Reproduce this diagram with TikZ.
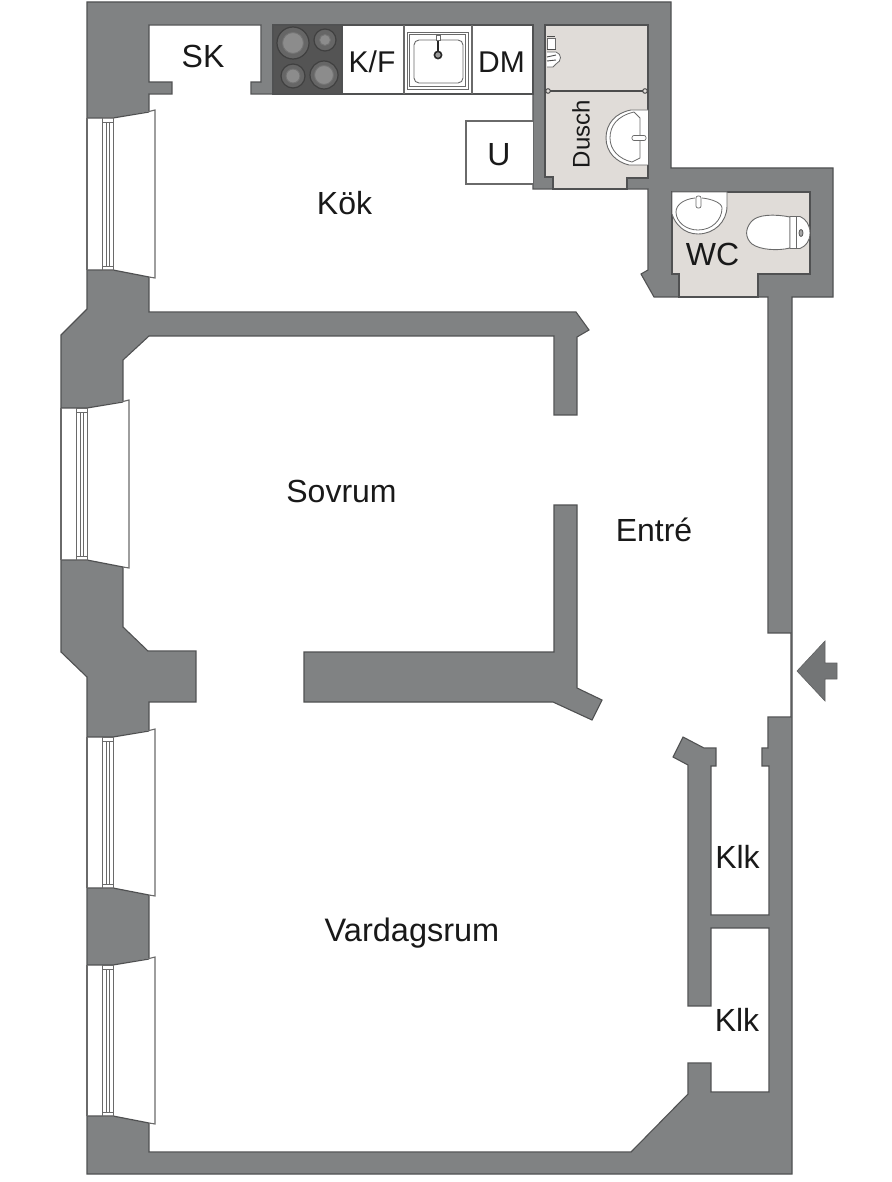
\documentclass[tikz,border=0pt]{standalone}
\usepackage{fontspec}
\setmainfont{Liberation Sans}
\definecolor{wallc}{HTML}{808283}
\definecolor{edgec}{HTML}{505152}
\definecolor{wetc}{HTML}{E0DCD8}
\definecolor{framec}{HTML}{6A6A6A}
\tikzset{
  x=1pt,y=-1pt,
  wall/.style={fill=wallc,draw=edgec,line width=1.1pt,line join=miter},
  room/.style={fill=white,draw=edgec,line width=1.1pt,line join=miter},
  wet/.style={fill=wetc,draw=edgec,line width=1.1pt},
  thin line/.style={draw=framec,line width=1.1pt},
  label/.style={font=\fontsize{32}{34}\selectfont,text=black!90,inner sep=0pt},
  small label/.style={font=\fontsize{30}{32}\selectfont,text=black!90,inner sep=0pt},
  ring/.style={draw=black!75,line width=1.2pt,fill=black!60}
}
\newcommand{\windowat}[7]{%
  \fill[white] (#1,#6) -- (#3,#6) -- (#4,#6-6.5) -- (#5,#6-8) -- (#5,#7+8) -- (#4,#7+7) -- (#3,#7) -- (#1,#7) -- cycle;
  \draw[edgec,line width=1.2pt] (#1,#6) -- (#3,#6) -- (#4,#6-6);
  \draw[edgec,line width=1.2pt] (#1,#7) -- (#3,#7) -- (#4,#7+7);
  \draw[thin line] (#4,#6-6.5) -- (#5,#6-8) -- (#5,#7+8) -- (#4,#7+7);
  \draw[thin line] (#1,#6) -- (#1,#7);
  \draw[thin line,line width=1pt] (#2,#6) rectangle (#3,#7);
  \draw[thin line,line width=0.9pt] (#2+4,#6+4) -- (#2+4,#7-4);
  \draw[thin line,line width=0.9pt] (#2+7.5,#6+4) -- (#2+7.5,#7-4);
  \draw[thin line,line width=0.7pt] (#2,#6+4) -- (#3,#6+4) (#2,#7-4) -- (#3,#7-4);
}
\begin{document}
\begin{tikzpicture}
\useasboundingbox (0,0) rectangle (891,1182);
% outer mass
\path[wall] (87,2) -- (671,2) -- (671,168) -- (833,168) -- (833,297) -- (792,297) -- (792,1174) -- (87,1174) -- (87,677) -- (61,652) -- (61,335) -- (87,309) -- cycle;
% main interior
\path[room] (149,25) -- (261,25) -- (261,82) -- (251,82) -- (251,94) -- (533,94) -- (533,189) -- (648,189) -- (648,270) -- (641,274) -- (654,297) -- (758,297) -- (768,297) -- (768,633) -- (791,633) -- (791,717) -- (768,717) -- (768,748) -- (762,748) -- (762,766) -- (769,766) -- (769,915) -- (711,915) -- (711,766) -- (716,766) -- (716,748) -- (704,748) -- (683,737) -- (673,757) -- (688,765) -- (688,1006) -- (711,1006) -- (711,928) -- (769,928) -- (769,1092) -- (711,1092) -- (711,1063) -- (688,1063) -- (688,1094) -- (631,1152) -- (149,1152) -- (149,702) -- (196,702) -- (196,651) -- (148,651) -- (123,627) -- (123,360) -- (149,336) -- (554,336) -- (554,415) -- (577,415) -- (577,337) -- (589,330) -- (576,312) -- (149,312) -- (149,94) -- (172,94) -- (172,82) -- (149,82) -- cycle;
% central T wall
\path[wall] (304,652) -- (554,652) -- (554,505) -- (577,505) -- (577,688) -- (602,700) -- (592,720) -- (553,702) -- (304,702) -- cycle;
% kitchen row
\path[fill=white,draw=edgec,line width=1.1pt] (342,25) rectangle (533,94);
\path[fill=black!67,draw=edgec,line width=1.1pt] (273,25) rectangle (342,94);
\draw[ring] (293,43) circle (16); \draw[draw=black!55,line width=0.9pt,fill=black!45] (293,43) circle (10.5);
\draw[ring] (325,40) circle (11); \draw[draw=black!55,line width=0.9pt,fill=black!45] (325,40) circle (5.5);
\draw[ring] (293,76) circle (12); \draw[draw=black!55,line width=0.9pt,fill=black!45] (293,76) circle (7);
\draw[ring] (324,75) circle (14); \draw[draw=black!55,line width=0.9pt,fill=black!45] (324,75) circle (9.5);
\draw[thin line] (404,25) -- (404,94) (472,25) -- (472,94);
\draw[thin line,line width=0.9pt] (407,32) rectangle (468,89);
\draw[thin line,line width=0.9pt] (409.5,34.5) rectangle (465.5,86.5);
\draw[thin line,line width=0.9pt,rounded corners=5pt] (414,40) rectangle (463,83);
\draw[draw=black!85,line width=1.6pt] (438,40) -- (438,51);
\draw[thin line,line width=0.7pt,fill=white] (436,35) rectangle (440,40);
\draw[draw=black!85,line width=1.6pt,fill=black!40] (438,55) circle (3.6);
% U unit
\draw[thin line,fill=white] (533,121) -- (466,121) -- (466,184) -- (533,184);
% bathroom
\path[wet] (545,25) -- (648,25) -- (648,178) -- (627,178) -- (627,189) -- (553,189) -- (553,177) -- (545,177) -- cycle;
\draw[fill=white,draw=framec,line width=0.9pt] (648,110) -- (631,110) .. controls (615,113) and (606,124) .. (606,138) .. controls (606,152) and (616,162) .. (629,165) -- (648,165);
\draw[draw=framec,line width=0.8pt] (634,112) .. controls (617,116) and (610,126) .. (610,138) .. controls (610,150) and (619,159) .. (632,162) -- (640,158) -- (640,141) (640,135) -- (640,118) -- (634,112);
\draw[draw=framec,line width=0.7pt,fill=white,rounded corners=2pt] (632,135.5) rectangle (646,140.5);
\draw[draw=black!70,line width=1.2pt] (548,91) -- (645,91);
\draw[draw=black!75,line width=0.9pt,fill=wetc] (548,91) circle (2.3) (645,91) circle (2.3);
% shower head
\draw[draw=framec,line width=0.8pt,fill=white] (547,38) rectangle (555,49);
\draw[draw=black!70,line width=1pt] (547,37) -- (555,37) (547,50) -- (556,50);
\draw[draw=framec,line width=0.8pt,fill=white] (547,52) -- (556,52) .. controls (562,54) and (562,61) .. (556,64) -- (553,67) -- (547,67);
\draw[draw=black!70,line width=0.9pt] (547,57) -- (556,55) (547,61) -- (556,60);
% WC
\path[wet] (672,192) -- (810,192) -- (810,274) -- (758,274) -- (758,297) -- (679,297) -- (679,274) -- (672,274) -- cycle;
\draw[fill=white,draw=framec,line width=0.9pt] (672,192) -- (727,192) -- (727,206) .. controls (727,222) and (714,234) .. (698,234) .. controls (684,234) and (675,224) .. (672,214) -- cycle;
\draw[draw=framec,line width=0.8pt] (695,198) .. controls (685,199) and (676,204) .. (676,212) .. controls (676,222) and (686,230) .. (698,230) .. controls (712,230) and (722,220) .. (722,208) .. controls (722,203) and (712,199) .. (702,198);
\draw[draw=framec,line width=0.7pt,fill=white,rounded corners=2pt] (696,196) rectangle (701,208);
\draw[fill=white,draw=framec,line width=0.9pt] (790,217) .. controls (775,214) and (757,214) .. (751,222) .. controls (745,229) and (745,238) .. (752,244) .. controls (760,250) and (778,251) .. (790,248) -- cycle;
\draw[fill=white,draw=framec,line width=0.9pt] (790,216.5) -- (800,216.5) .. controls (806,219) and (810,225) .. (810,233) .. controls (810,241) and (806,246) .. (800,248.5) -- (790,248.5) -- cycle;
\draw[draw=framec,line width=0.8pt] (796,216.5) -- (796,248.5);
\draw[draw=black!65,line width=0.8pt,fill=black!35] (801,233) ellipse (2 and 3.5);
% windows
\windowat{87}{102}{113}{149}{155}{118}{270}
\windowat{61}{76}{87}{123}{129}{408}{560}
\windowat{87}{102}{113}{149}{155}{737}{888}
\windowat{87}{102}{113}{149}{155}{965}{1116}
% entrance arrow
\path[fill=wallc!90!black,draw=wallc!75!black,line width=0.6pt] (797,671) -- (825,641) -- (825,663) -- (837,663) -- (837,679) -- (825,679) -- (825,701) -- cycle;
% labels
\node[label] (sk) at (203,56) {SK};
\node[small label] (kf) at (372,62) {K/F};
\node[small label] (dm) at (501.5,62) {DM};
\node[label] (u) at (499,155) {U};
\node[font=\fontsize{24}{26}\selectfont,text=black!90,inner sep=0pt,rotate=90] (dusch) at (581,134) {Dusch};
\node[label] (wc) at (712.5,254) {WC};
\node[label] (kok) at (344.5,203) {Kök};
\node[label] (sovrum) at (341.5,491.5) {Sovrum};
\node[label] (entre) at (654,529.5) {Entré};
\node[label] (klk1) at (737.5,857) {Klk};
\node[label] (klk2) at (737,1020) {Klk};
\node[font=\fontsize{32.5}{34}\selectfont,text=black!90,inner sep=0pt] (vardagsrum) at (412,933) {Vardagsrum};
\end{tikzpicture}
\end{document}
